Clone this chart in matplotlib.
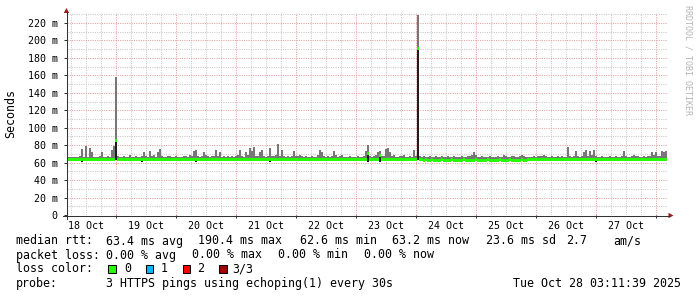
import numpy as np
import matplotlib
matplotlib.use("Agg")
import matplotlib.pyplot as plt
from matplotlib.patches import Rectangle, Polygon
from matplotlib.lines import Line2D

W, H, DPI = 697, 297, 100
MONO = "DejaVu Sans Mono"

# ---------------- data ----------------
start_day = 0.1883          # days since 18 Oct 00:00 (left edge of graph)
bin_days = 1.0 / 30.0       # one consolidated step (48 min)

max_ms = [
    67, 66.5, 66.5, 66, 67, 66.5, 67.5, 76, 66.5, 79, 67, 77, 72, 66.5, 67, 66, 67.5, 72, 67, 66.5, 67.5, 66.5, 75, 79, 158, 67.5, 66.5, 67, 68, 66.5,
    67, 69, 67, 66.5, 67.5, 67, 66.5, 68, 72, 68, 67, 73, 67.5, 69, 67, 72, 76, 68, 67, 66.5, 67.5, 68, 66.5, 67, 67.5, 66.5, 67, 66.5, 67.5, 68,
    67, 69, 67.5, 73, 75, 68, 67, 67.5, 72, 69, 68, 67, 67.5, 68, 74, 68, 72, 67, 67.5, 66.5, 67.5, 67, 68, 67, 67.5, 69, 74, 68, 67, 72,
    69, 77, 73, 78, 68, 67.5, 72, 74, 68, 67, 67.5, 77, 68, 67.5, 69, 81, 68, 74, 67.5, 67, 68, 66.5, 67.5, 73, 68, 67.5, 69, 68, 67, 67.5,
    66.5, 67, 67.5, 66.5, 67, 69, 74, 72, 68, 67, 67.5, 66.5, 68, 73, 69, 67, 67.5, 69, 67, 66.5, 67, 67.5, 66.5, 67, 66.5, 67.5, 67, 66.5, 68, 73,
    80, 67.5, 67, 68, 69, 72, 73, 67.5, 68, 76, 77, 72, 67.5, 69, 67, 66.5, 67.5, 68, 69, 67, 66.5, 67.5, 67, 74, 67.5, 229, 68, 67, 67.5, 66.5,
    67, 67.5, 66.5, 67, 68, 67, 66.5, 67.5, 67, 66.5, 67.5, 67, 66.5, 67.5, 67, 66.5, 67, 67.5, 66.5, 67, 67.5, 68, 69, 72, 69, 67, 66.5, 67.5, 67, 66.5,
    67, 67.5, 66.5, 67, 66.5, 67.5, 67, 66.5, 69, 67.5, 67, 66.5, 67.5, 68, 67, 66.5, 67.5, 69, 68, 67, 66.5, 67, 66.5, 67.5, 67, 68, 67.5, 68, 69, 67.5,
    67, 66.5, 67.5, 67, 66.5, 67.5, 67, 68, 66.5, 67, 78, 67.5, 67, 68, 73, 67.5, 67, 68, 72, 75, 68, 73, 69, 74, 67.5, 67, 66.5, 67.5, 67, 66.5,
    67, 67.5, 66.5, 67, 67.5, 66.5, 67, 68, 73, 67.5, 67, 66.5, 68, 69, 68, 67.5, 67, 66.5, 67.5, 67, 67.5, 68, 72, 69, 72, 67.5, 68, 73, 72, 73,
]

median_ms = [
    63.6, 63.5, 63.6, 63.6, 63.7, 63.6, 63.5, 63.6, 63.6, 63.7, 63.6, 63.6, 63.5, 63.6, 63.6, 63.7, 63.6, 63.5, 63.6, 63.6, 63.6, 63.7, 63.6, 63.6, 85.0, 63.6, 63.5, 63.6, 63.6, 63.7,
    63.6, 63.5, 63.6, 63.6, 63.6, 63.7, 63.6, 63.5, 63.6, 63.6, 63.6, 63.7, 63.6, 63.6, 63.5, 63.6, 63.6, 63.7, 63.6, 63.6, 63.5, 63.6, 63.6, 63.6, 63.5, 63.6, 63.6, 63.7, 63.6, 63.5,
    63.6, 63.6, 63.5, 63.6, 63.6, 63.7, 63.6, 63.6, 63.5, 63.6, 63.6, 63.6, 63.7, 63.6, 63.5, 63.6, 63.6, 63.6, 63.5, 63.6, 63.6, 63.7, 63.6, 63.6, 63.5, 63.6, 63.6, 63.6, 63.5, 63.6,
    63.6, 63.6, 63.7, 63.6, 63.5, 63.6, 63.6, 63.6, 63.7, 63.6, 63.5, 63.6, 63.6, 63.6, 63.5, 63.6, 63.7, 63.6, 63.6, 63.5, 63.6, 63.6, 63.6, 63.5, 63.6, 63.6, 63.7, 63.6, 63.6, 63.5,
    63.4, 63.5, 63.4, 63.4, 63.3, 63.4, 63.5, 63.4, 63.4, 63.3, 63.4, 63.4, 63.5, 63.4, 63.4, 63.3, 63.4, 63.4, 63.5, 63.4, 63.3, 63.4, 63.4, 63.4, 63.3, 63.4, 63.5, 63.4, 63.4, 63.3,
    70.7, 63.4, 63.4, 63.3, 63.4, 63.4, 68.0, 63.4, 63.3, 63.4, 63.4, 63.5, 63.4, 63.3, 63.4, 63.4, 63.4, 63.3, 63.4, 63.4, 63.4, 63.3, 63.4, 63.4, 63.4, 190.4, 63.3, 63.1, 63.0, 63.1,
    63.0, 63.0, 63.1, 63.0, 62.9, 63.0, 63.0, 63.1, 63.0, 62.9, 63.0, 63.0, 63.1, 63.0, 63.0, 62.9, 63.0, 63.0, 63.1, 63.0, 63.0, 62.9, 63.0, 63.0, 63.1, 63.0, 63.0, 62.9, 63.0, 63.0,
    63.1, 63.0, 63.0, 62.9, 63.0, 63.0, 63.1, 63.0, 63.0, 62.9, 63.0, 63.1, 63.0, 63.0, 62.9, 63.0, 63.0, 63.1, 63.0, 63.0, 63.1, 63.2, 63.2, 63.3, 63.2, 63.2, 63.3, 63.2, 63.2, 63.3,
    63.2, 63.3, 63.2, 63.2, 63.3, 63.2, 63.2, 63.3, 63.2, 63.2, 63.3, 63.2, 63.2, 63.3, 63.2, 63.2, 63.3, 63.2, 63.2, 63.3, 63.2, 63.2, 63.3, 63.2, 63.2, 63.3, 63.2, 63.2, 63.3, 63.2,
    63.2, 63.3, 63.2, 63.2, 63.3, 63.2, 63.2, 63.3, 63.2, 63.2, 63.3, 63.2, 63.2, 63.3, 63.2, 63.2, 63.3, 63.2, 63.2, 63.3, 63.2, 63.2, 63.3, 63.2, 63.2, 63.3, 63.2, 63.2, 63.3, 63.2,
]

min_ms = [
    62.9, 62.8, 62.9, 63.0, 62.9, 62.8, 62.9, 60.6, 62.9, 63.0, 62.9, 62.8, 62.9, 62.9, 63.0, 62.9, 62.8, 62.9, 62.9, 63.0, 62.9, 62.8, 62.9, 62.9, 63.0, 62.9, 62.8, 62.9, 62.9, 63.0,
    62.9, 62.8, 62.9, 62.9, 63.0, 62.9, 62.8, 60.5, 62.9, 63.0, 62.9, 62.8, 62.9, 62.9, 63.0, 62.9, 62.8, 62.9, 62.9, 63.0, 62.9, 62.8, 62.9, 62.9, 63.0, 62.9, 62.8, 62.9, 62.9, 63.0,
    62.9, 62.8, 62.9, 62.9, 60.6, 62.9, 62.8, 62.9, 62.9, 63.0, 62.9, 62.8, 62.9, 62.9, 63.0, 62.9, 62.8, 62.9, 62.9, 63.0, 62.9, 62.8, 62.9, 62.9, 63.0, 62.9, 62.8, 62.9, 62.9, 63.0,
    62.9, 62.8, 62.9, 62.9, 63.0, 62.9, 62.8, 62.9, 62.9, 63.0, 62.9, 60.5, 62.9, 62.9, 63.0, 62.9, 62.8, 62.9, 62.9, 63.0, 62.9, 62.8, 62.9, 62.9, 63.0, 62.9, 62.8, 62.9, 62.9, 63.0,
    62.7, 62.8, 62.7, 62.6, 62.7, 62.8, 62.7, 62.6, 62.7, 62.8, 62.7, 62.6, 62.7, 62.8, 62.7, 62.6, 62.7, 62.8, 62.7, 62.6, 62.7, 62.8, 62.7, 62.6, 62.7, 62.8, 62.7, 62.6, 62.7, 62.8,
    60.4, 62.6, 62.7, 62.8, 62.7, 62.6, 60.6, 62.8, 62.7, 62.6, 62.7, 62.8, 62.7, 62.6, 62.7, 62.8, 62.7, 62.6, 62.7, 62.8, 62.7, 62.6, 62.7, 62.8, 62.7, 62.9, 62.6, 62.5, 62.4, 62.5,
    62.4, 62.3, 62.4, 62.5, 62.3, 62.4, 62.4, 62.5, 62.4, 62.3, 62.4, 62.4, 62.5, 62.4, 62.4, 62.3, 62.4, 62.4, 62.5, 62.4, 60.4, 62.3, 62.4, 62.4, 62.5, 62.4, 62.4, 62.3, 62.4, 62.4,
    62.5, 62.4, 62.4, 62.3, 62.4, 62.4, 62.5, 62.4, 62.4, 62.3, 62.4, 62.5, 62.4, 62.4, 62.3, 62.4, 62.4, 62.5, 62.4, 62.4, 62.5, 62.6, 62.6, 62.7, 62.6, 62.6, 62.7, 62.6, 62.6, 62.7,
    62.6, 62.7, 62.6, 62.6, 62.7, 62.6, 62.6, 62.7, 62.6, 62.6, 62.7, 62.6, 62.6, 62.7, 62.6, 62.6, 62.7, 62.6, 62.6, 62.7, 62.6, 62.6, 62.7, 62.6, 60.5, 62.7, 62.6, 62.6, 62.7, 62.6,
    62.6, 62.7, 62.6, 62.6, 62.7, 62.6, 62.6, 62.7, 62.6, 62.6, 62.7, 62.6, 62.6, 62.7, 62.6, 62.6, 62.7, 62.6, 62.6, 62.7, 62.6, 62.6, 62.7, 62.6, 62.6, 62.7, 62.6, 62.6, 62.7, 62.6,
]

y_tick_values = [0, 20, 40, 60, 80, 100, 120, 140, 160, 180, 200, 220]
y_tick_labels = ["0", "20 m", "40 m", "60 m", "80 m", "100 m", "120 m",
                 "140 m", "160 m", "180 m", "200 m", "220 m"]
midnight_days = [1, 2, 3, 4, 5, 6, 7, 8, 9, 10]
label_days = [0.5, 1.5, 2.5, 3.5, 4.5, 5.5, 6.5, 7.5, 8.5, 9.5]
day_labels = ["18 Oct", "19 Oct", "20 Oct", "21 Oct", "22 Oct",
              "23 Oct", "24 Oct", "25 Oct", "26 Oct", "27 Oct"]

legend_row1 = [("median rtt:", 16), ("63.4 ms avg", 106.5), ("190.4 ms max", 198.5),
               ("62.6 ms min", 299.5), ("63.2 ms now", 392.5), ("23.6 ms sd", 486),
               ("2.7", 566), ("am/s", 613.5)]
legend_row2 = [("packet loss:", 16), ("0.00 % avg", 106.5), ("0.00 % max", 192.5),
               ("0.00 % min", 278.5), ("0.00 % now", 364.5)]
loss_labels = ["0", "1", "2", "3/3"]
loss_colors = ["#26ff00", "#00b8ff", "#ff0000", "#a00000"]
probe_text = "3 HTTPS pings using echoping(1) every 30s"
stamp_text = "Tue Oct 28 03:11:39 2025"

# ---------------- figure ----------------
fig = plt.figure(figsize=(W / DPI, H / DPI), dpi=DPI)
fig.patch.set_facecolor("white")

AX_L, AX_R, AX_T, AX_B = 67, 667, 13, 215
ax = fig.add_axes([AX_L / W, 1 - AX_B / H, (AX_R - AX_L) / W, (AX_B - AX_T) / H])
ax.set_facecolor("white")
ax.set_xlim(start_day, start_day + 10)
ax.set_ylim(0, 231.5)
for s in ax.spines.values():
    s.set_visible(False)

# grid
minor_c, major_c = "#c8c8c8", "#e6a0a0"
dot = (0, (1, 1.2))
k = 1
while True:
    v = k * 0.25
    if v >= start_day + 10:
        break
    if v > start_day:
        is_major = abs(v - round(v)) < 1e-9
        ax.axvline(v, color=major_c if is_major else minor_c, lw=0.75, ls=dot, zorder=0)
    k += 1
for v in range(10, 232, 10):
    ax.axhline(v, color=major_c if v % 20 == 0 else minor_c, lw=0.75, ls=dot, zorder=0)

# smoke + median as per-step rectangles
n = len(max_ms)
left = start_day + bin_days * np.arange(n)
med = np.array(median_ms, dtype=float)
mx = np.array(max_ms, dtype=float)
mn = np.array(min_ms, dtype=float)
ax.bar(left, mx - med, bottom=med, width=bin_days, align="edge", color="#777777",
       lw=0, zorder=2)
ax.bar(left, med - mn, bottom=mn, width=bin_days, align="edge", color="#1e1e1e",
       lw=0, zorder=3)
half = 1.5 * 231.5 / (AX_B - AX_T)
ax.bar(left, 2 * half, bottom=med - half, width=bin_days, align="edge",
       color="#26ff00", lw=0, zorder=4)

# ticks
ax.set_yticks(y_tick_values, y_tick_labels)
ax.set_xticks(midnight_days, [""] * len(midnight_days))
ax.set_xticks(label_days, day_labels, minor=True)
ax.tick_params(axis="y", length=2.2, width=0.75, color="#333333", pad=4.5,
               labelsize=7.2, labelcolor="black")
ax.tick_params(axis="x", which="major", length=2.2, width=0.75, color="#333333")
ax.tick_params(axis="x", which="minor", length=0, pad=4.0, labelsize=7.2,
               labelcolor="black")
for lab in ax.get_yticklabels() + ax.get_xticklabels(minor=True):
    lab.set_family(MONO)

# axis lines and arrows (figure pixel coords, origin top-left)
def P(x, y):
    return (x / W, 1 - y / H)

axis_c, arrow_c = "#333333", "#9b1c1c"
x0, y0 = P(66.5, 219)
x1, y1 = P(66.5, 12)
fig.add_artist(Line2D([x0, x1], [y0, y1], color=axis_c, lw=0.75, transform=fig.transFigure))
x0, y0 = P(63, 215.5)
x1, y1 = P(669, 215.5)
fig.add_artist(Line2D([x0, x1], [y0, y1], color=axis_c, lw=0.75, transform=fig.transFigure))
fig.add_artist(Polygon([P(63.8, 13), P(69.2, 13), P(66.5, 8)], closed=True,
                       color=arrow_c, transform=fig.transFigure, lw=0))
fig.add_artist(Polygon([P(668.5, 212.8), P(668.5, 218.2), P(673.5, 215.5)], closed=True,
                       color=arrow_c, transform=fig.transFigure, lw=0))

# unit label and watermark
fig.text(*P(10.5, 113.5), "Seconds", rotation=90, ha="center", va="center",
         fontsize=8.4, family=MONO, color="black")
fig.text(*P(688, 5), "RRDTOOL / TOBI OETIKER", rotation=270, ha="center", va="top",
         fontsize=6.0, family=MONO, color="#b4b4b4")

# legend
LFS = 8.4
for txt, x in legend_row1:
    fig.text(*P(x, 241), txt, ha="left", va="center", fontsize=LFS, family=MONO)
for txt, x in legend_row2:
    fig.text(*P(x, 255), txt, ha="left", va="center", fontsize=LFS, family=MONO)
fig.text(*P(16, 269), "loss color:", ha="left", va="center", fontsize=LFS, family=MONO)
box_x = [108, 145.5, 182.5, 219]
lab_x = [124.5, 161, 197.5, 232.5]
for bx, lx, lab, col in zip(box_x, lab_x, loss_labels, loss_colors):
    bl = P(bx, 272.5)
    fig.add_artist(Rectangle(bl, 7.5 / W, 8 / H, facecolor=col, edgecolor="black",
                             lw=0.75, transform=fig.transFigure))
    fig.text(*P(lx, 269), lab, ha="left", va="center", fontsize=LFS, family=MONO)
fig.text(*P(16, 283.5), "probe:", ha="left", va="center", fontsize=LFS, family=MONO)
fig.text(*P(106.5, 283.5), probe_text, ha="left", va="center", fontsize=LFS, family=MONO)
fig.text(*P(681, 283.5), stamp_text, ha="right", va="center", fontsize=LFS, family=MONO)

fig.savefig("out.png", dpi=DPI, facecolor="white")
